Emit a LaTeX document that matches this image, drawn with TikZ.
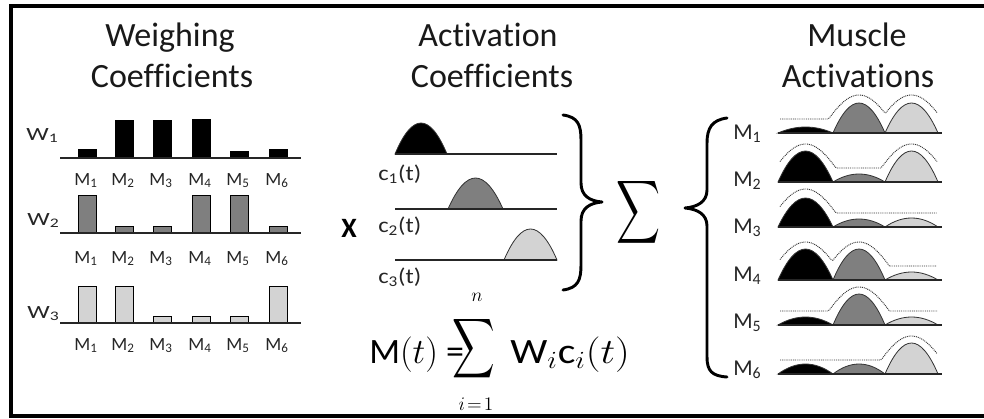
\documentclass[tikz,border=0pt]{standalone}
\usepackage{fontspec}
\setmainfont{Carlito}[Ligatures=NoCommon]
\usepackage{graphicx}
\definecolor{mgray}{HTML}{7F7F7F}
\definecolor{lgray}{HTML}{D3D3D3}
\newcommand\myhump[5]{\path[humpline,fill=#1] (#2,#4) .. controls ({#2+(#3-#2)/3},{#4-4*#5/3}) and ({#2+2*(#3-#2)/3},{#4-4*#5/3}) .. (#3,#4) -- cycle;}
\newcommand\wbar[4]{\draw[barline,fill=#1] ({#2-9},#3) rectangle ({#2+9},{#3-#4});}
\begin{document}
\begin{tikzpicture}[x=0.75pt,y=-0.75pt,
  title/.style={font=\fontsize{25.5}{30}\selectfont, inner sep=0, anchor=base, text=black!90},
  mlab/.style={font=\fontsize{14}{16}\selectfont, inner sep=0, anchor=base, text=black!85},
  wlab/.style={font=\fontsize{14}{16}\selectfont, inner sep=0, anchor=base east, text=black!85},
  clab/.style={font=\fontsize{16}{18}\selectfont, inner sep=0, anchor=base west, text=black!85},
  malab/.style={font=\fontsize{17}{20}\selectfont, inner sep=0, anchor=base west, text=black!85},
  fml/.style={font=\fontsize{25}{28}\selectfont, inner sep=0, anchor=base west},
  axisline/.style={line width=1pt, draw=black!85},
  barline/.style={draw=black, line width=0.7pt},
  humpline/.style={draw=black!80, line width=0.6pt},
  envelope/.style={draw=black!80, line width=0.7pt, dash pattern=on 0.7pt off 0.7pt},
  bracestyle/.style={line width=2.2pt, line cap=round, line join=round}]
\clip (0,0) rectangle (984,418);
\fill[white] (0,0) rectangle (984,418);
\draw[line width=3pt] (11,5.5) rectangle (1000,416);

% titles
\node[title] (t1a) at (170,46) {Weighing};
\node[title] (t1b) at (172,87) {Coefficients};
\node[title] (t2a) at (488,46) {Activation};
\node[title] (t2b) at (492,87) {Coefficients};
\node[title] (t3a) at (857,46) {Muscle};
\node[title] (t3b) at (858,87) {Activations};

% weighing coefficients
\foreach \c/\h in {87/9,124/38,162/38,201/39,239/7,278/9} {\wbar{black}{\c}{158}{\h}}
\foreach \c/\h in {87/38,124/7,162/7,201/38,239/38,278/7} {\wbar{mgray}{\c}{233}{\h}}
\foreach \c/\h in {87/37,124/37,162/7,201/7,239/7,278/37} {\wbar{lgray}{\c}{323}{\h}}
\draw[axisline] (60,158) -- (301,158);
\draw[axisline] (60,233) -- (301,233);
\draw[axisline] (60,323) -- (301,323);
\foreach \c [count=\i] in {87,124,162,201,239,278} {
  \node[mlab] (wa\i) at (\c-1,185) {M\textsubscript{\i}};
  \node[mlab] (wb\i) at (\c-1,263) {M\textsubscript{\i}};
  \node[mlab] (wc\i) at (\c-1,350) {M\textsubscript{\i}};
}
\node[wlab] (w1) at (59,140) {\scalebox{1.35}[1]{W\textsubscript{1}}};
\node[wlab] (w2) at (60,225) {\scalebox{1.35}[1]{W\textsubscript{2}}};
\node[wlab] (w3) at (60,318) {\scalebox{1.35}[1]{W\textsubscript{3}}};

% X
\node[font=\fontsize{21}{24}\selectfont\bfseries, inner sep=0, anchor=base] (xx) at (349,237) {X};

% activation coefficients
\myhump{black}{395}{447}{154}{31}
\myhump{mgray}{448}{503}{209}{31}
\myhump{lgray}{504}{557}{260}{31}
\draw[axisline] (395,154) -- (557,154);
\draw[axisline] (395,209) -- (557,209);
\draw[axisline] (395,260) -- (557,260);
\node[clab] (c1) at (378,180) {\scalebox{1.15}[1]{c\textsubscript{1}(t)}};
\node[clab] (c2) at (378,232) {\scalebox{1.15}[1]{c\textsubscript{2}(t)}};
\node[clab] (c3) at (378,283) {\scalebox{1.15}[1]{c\textsubscript{3}(t)}};

% braces and sum
\draw[bracestyle] (563,115) .. controls (578,117) and (581,125) .. (581,140) -- (581,183)
  .. controls (581,196) and (590,201) .. (602,202)
  .. controls (590,203) and (581,208) .. (581,221) -- (581,265)
  .. controls (581,280) and (578,288) .. (563,290);
\node[inner sep=0] (bigsum) at (638,212.5) {\resizebox*{33pt}{53pt}{$\displaystyle\sum$}};
\draw[bracestyle] (727,118) .. controls (712,120) and (707,128) .. (707,143) -- (707,190)
  .. controls (707,202) and (697,207) .. (685,208)
  .. controls (697,209) and (707,214) .. (707,226) -- (707,357)
  .. controls (707,371) and (712,376) .. (727,377);

% formula
\node[fml] (fm) at (369,363) {\scalebox{1.08}[1.07]{M$(t)$ =}};
\node[inner sep=0] (fsum) at (473.5,349) {\resizebox*{32pt}{50pt}{$\displaystyle\sum$}};
\node[font=\fontsize{15}{18}\selectfont, inner sep=0] (fn) at (477,297) {$n$};
\node[font=\fontsize{15}{18}\selectfont, inner sep=0, anchor=base] (fi) at (476,410) {$i\!=\!1$};
\node[fml] (fw) at (510,363) {\scalebox{1.25}[1.07]{W$_i$c$_i(t)$}};

% muscle activations
\foreach \L/\ha/\hb/\hc/\ta/\tb/\tc/\lb [count=\r] in
  {133/6/30/30/0/1/1/139, 182/31/8/31/1/0/1/186, 227/29/8/9/1/0/0/233,
   280/31/31/8/1/1/0/281, 325/8/31/8/0/1/0/328, 374/10/10/31/0/0/1/375} {
  \myhump{black}{778}{833}{\L}{\ha}
  \myhump{mgray}{833}{885}{\L}{\hb}
  \myhump{lgray}{885}{938}{\L}{\hc}
  \draw[axisline, line width=1.2pt] (778,\L) -- (942,\L);
  \draw[envelope] plot[domain=780:937, samples=90]
    (\x,{\L-max(14,\ta*38*cos(min(90,abs(\x-805.5)*2.25)),\tb*38*cos(min(90,abs(\x-859)*2.25)),\tc*38*cos(min(90,abs(\x-911.5)*2.25)))});
  \node[malab] (ma\r) at (733,\lb) {M\textsubscript{\r}};
}
\end{tikzpicture}
\end{document}
